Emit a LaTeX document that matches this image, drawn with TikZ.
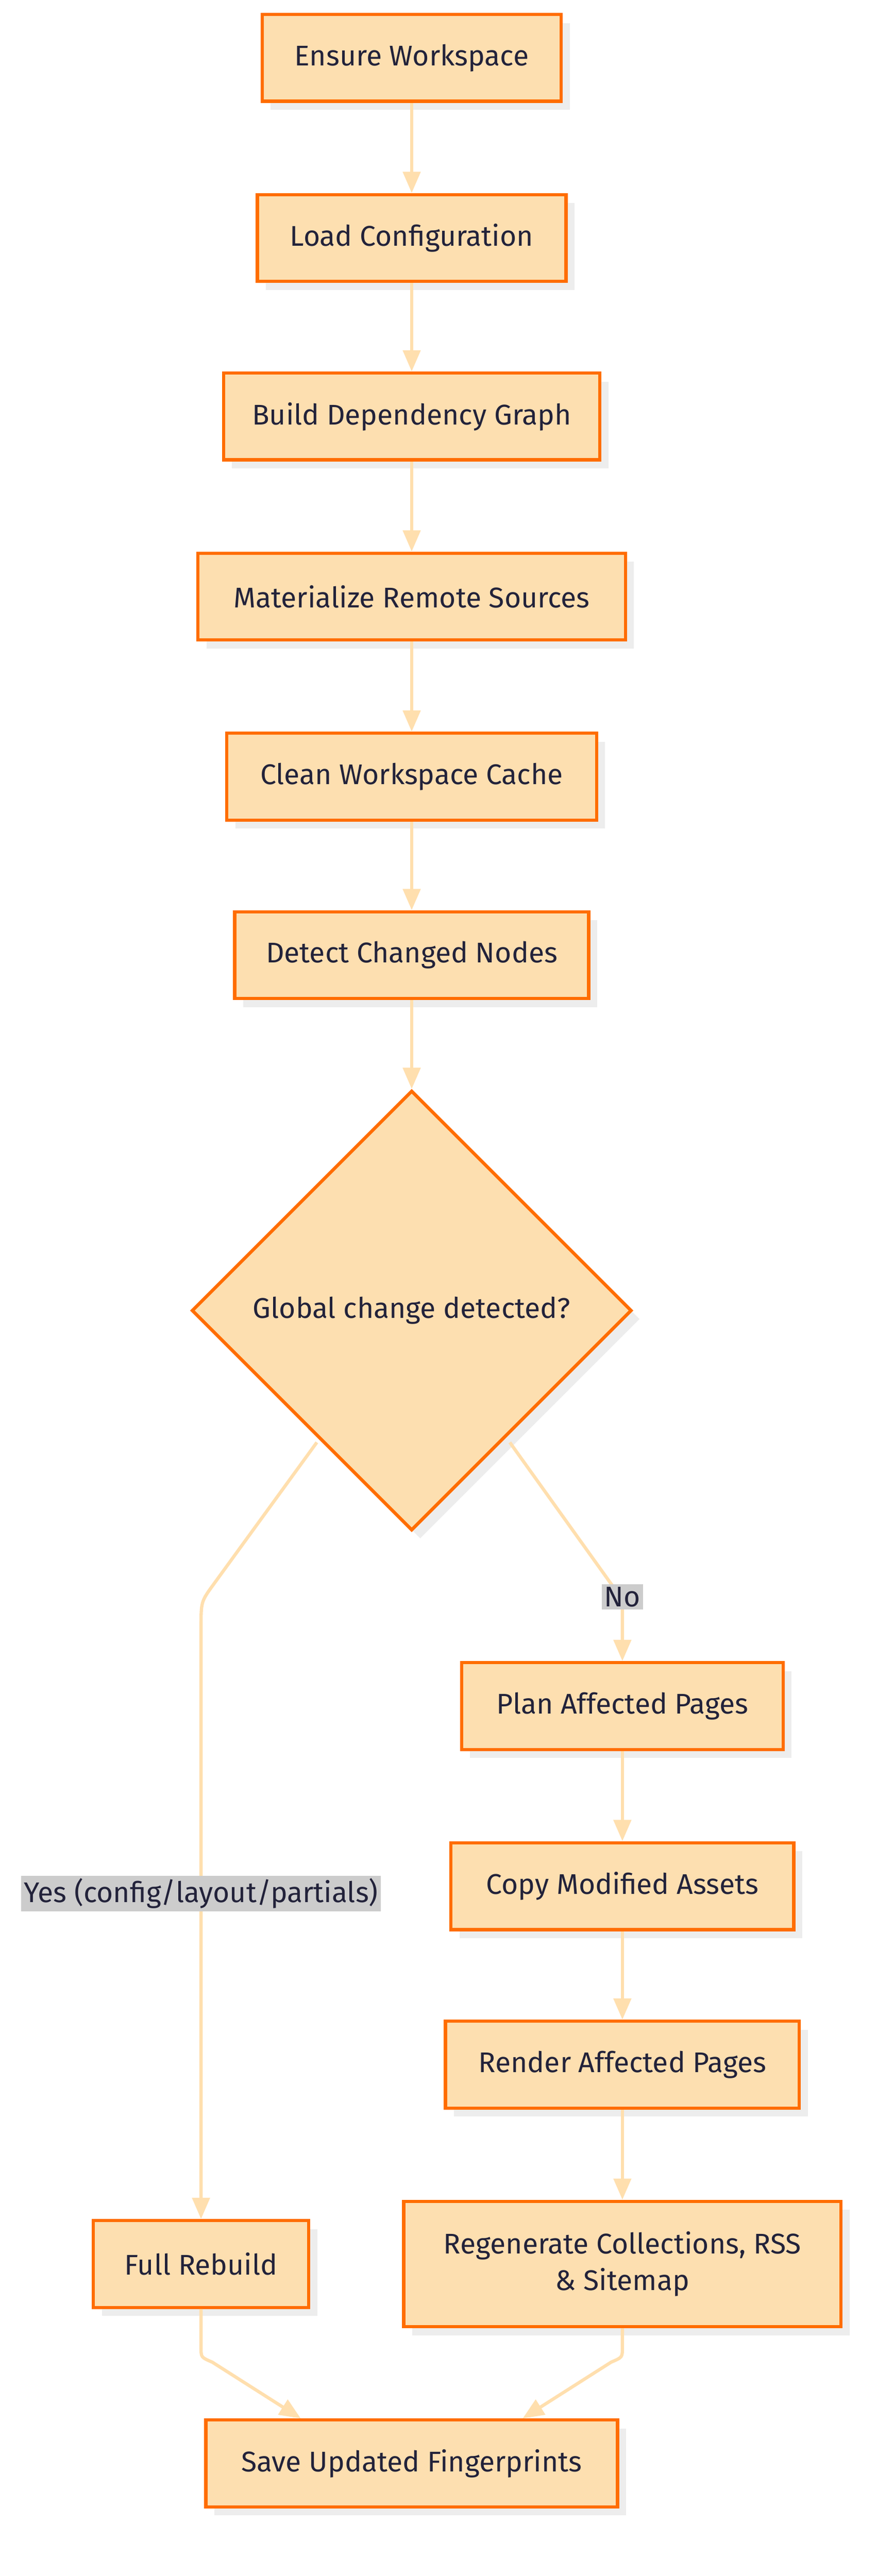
\documentclass[tikz,border=0pt]{standalone}
\usepackage{fontspec}
\setmainfont{Fira Sans}
\usetikzlibrary{shapes.geometric,shadows,arrows.meta}
\definecolor{boxfill}{HTML}{FDDFB0}
\definecolor{boxline}{HTML}{FF6D00}
\definecolor{edgeline}{HTML}{FFDFAE}
\definecolor{textcol}{HTML}{22223A}
\definecolor{lblfill}{HTML}{CCCCCC}
\begin{document}
\begin{tikzpicture}[x=0.04167cm,y=-0.04167cm,
    stage/.style={draw=boxline, line width=2.4pt, fill=boxfill, text=textcol,
      minimum height=2.25cm, inner sep=0pt, font=\fontsize{21}{27}\selectfont,
      drop shadow={shadow xshift=0.22cm, shadow yshift=-0.22cm, fill=black!7, opacity=1}},
    choice/.style={stage, diamond, minimum width=11.4cm, minimum height=11.4cm},
    flow/.style={draw=edgeline, line width=2.4pt, -{Triangle[length=0.55cm,width=0.45cm]}},
    lbl/.style={fill=lblfill, text=textcol, inner sep=2pt, font=\fontsize{21}{27}\selectfont}]
    \useasboundingbox (0,0) rectangle (545,1602);
    \node[stage, minimum width=7.75cm] (ensure) at (256,36) {Ensure Workspace};
    \node[stage, minimum width=8cm] (load) at (256,148) {Load Configuration};
    \node[stage, minimum width=9.75cm] (graph) at (256,259) {Build Dependency Graph};
    \node[stage, minimum width=11.08cm] (remote) at (256,371) {Materialize Remote Sources};
    \node[stage, minimum width=9.58cm] (clean) at (256,483) {Clean Workspace Cache};
    \node[stage, minimum width=9.17cm] (detect) at (256,594) {Detect Changed Nodes};
    \node[choice] (global) at (256,815) {Global change detected?};
    \node[stage, minimum width=8.33cm] (plan) at (387,1061) {Plan Affected Pages};
    \node[stage, minimum width=8.88cm] (copy) at (387,1173) {Copy Modified Assets};
    \node[stage, minimum width=9.17cm] (render) at (387,1284) {Render Affected Pages};
    \node[stage, minimum width=11.33cm, minimum height=3.25cm, align=center] (regen) at (387,1408) {Regenerate Collections, RSS\\\& Sitemap};
    \node[stage, minimum width=5.58cm] (full) at (125,1408) {Full Rebuild};
    \node[stage, minimum width=10.67cm] (save) at (256,1532) {Save Updated Fingerprints};
    % straight chain
    \foreach \a/\b in {ensure/load,load/graph,graph/remote,remote/clean,clean/detect,detect/global,plan/copy,copy/render,render/regen}
        \draw[flow] (\a) -- (\b);
    % branches
    \coordinate (yl) at (197,897);
    \coordinate (nl) at (317,897);
    \draw[flow] (yl) -- (133,985) .. controls (125,996) .. (125,1012) -- (full.north)
        node[lbl, pos=0.45] {Yes (config/layout/partials)};
    \draw[flow] (nl) -- (380,985) .. controls (387,994) .. (387,1005) -- (plan.north);
    \node[lbl] (no) at (387,993) {No};
    \coordinate (sl) at (187,1504);
    \coordinate (sr) at (325,1504);
    \draw[flow] (full.south) -- (125,1460) .. controls (125,1466) .. (132,1469) -- (sl);
    \draw[flow] (regen.south) -- (387,1460) .. controls (387,1466) .. (380,1469) -- (sr);
\end{tikzpicture}
\end{document}
